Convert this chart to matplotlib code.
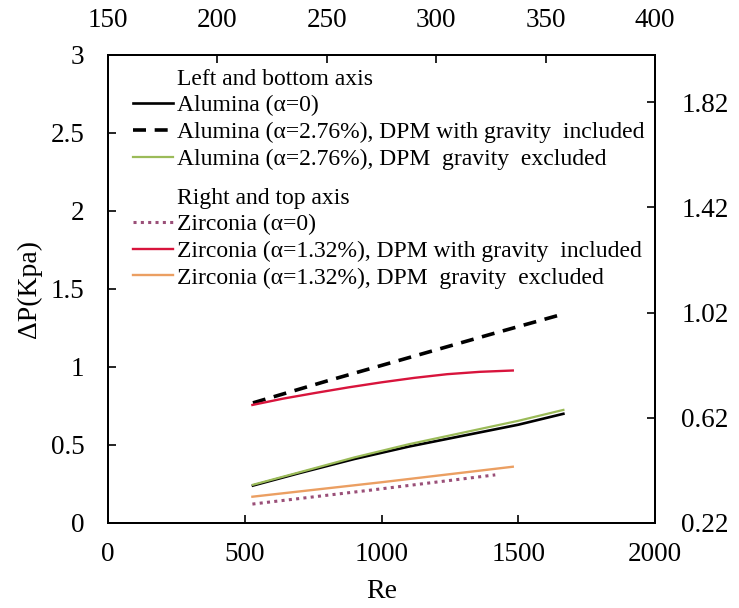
import matplotlib
matplotlib.use("Agg")
import matplotlib.pyplot as plt
from matplotlib.lines import Line2D

plt.rcParams['font.family'] = ['Liberation Serif', 'DejaVu Serif']

# Alumina, plotted on the left / bottom axes (Re vs dP in kPa)
re_al = [530, 700, 900, 1100, 1300, 1500, 1665]
dp_al_base = [0.24, 0.32, 0.41, 0.49, 0.56, 0.63, 0.70]
dp_al_nograv = [0.245, 0.325, 0.42, 0.505, 0.58, 0.655, 0.725]
re_al_grav = [530, 800, 1100, 1400, 1645]
dp_al_grav = [0.77, 0.91, 1.06, 1.21, 1.33]

# Zirconia, plotted on the right / top axes
re_zr = [216, 230, 245, 260, 275, 290, 305, 320, 335]
dp_zr_grav = [0.669, 0.693, 0.715, 0.736, 0.755, 0.772, 0.786, 0.795, 0.800]
re_zr_nograv = [216, 275, 335]
dp_zr_nograv = [0.320, 0.375, 0.434]
re_zr_base = [216, 270, 327]
dp_zr_base = [0.292, 0.345, 0.403]

left_ticks = [0, 0.5, 1, 1.5, 2, 2.5, 3]
bottom_ticks = [0, 500, 1000, 1500, 2000]
right_ticks = [0.22, 0.62, 1.02, 1.42, 1.82]
top_ticks = [150, 200, 250, 300, 350, 400]

fig = plt.figure(figsize=(7.39, 6.08), dpi=100)
ax = fig.add_axes([108 / 739, 85 / 608, 547 / 739, 468 / 608])
ax_r = ax.twinx()
ax_t = ax_r.twiny()

ax.plot(re_al, dp_al_base, color='black', lw=1.9)
ax.plot(re_al_grav, dp_al_grav, color='black', lw=2.6, dashes=(3.6, 2.4))
ax.plot(re_al, dp_al_nograv, color='#9bbb59', lw=1.6)

ax_t.plot(re_zr_base, dp_zr_base, color='#9a4f78', lw=2.2, dashes=(1, 1.4))
ax_t.plot(re_zr, dp_zr_grav, color='#d8143c', lw=1.7)
ax_t.plot(re_zr_nograv, dp_zr_nograv, color='#eb9f62', lw=1.7)

ax.set_xlim(0, 2000)
ax.set_ylim(0, 3)
ax_r.set_ylim(0.22, 2.0)
ax_t.set_xlim(150, 400)

ax.set_xticks(bottom_ticks)
ax.set_yticks(left_ticks)
ax.set_yticklabels(['0', '0.5', '1', '1.5', '2', '2.5', '3'])
ax_r.set_yticks(right_ticks)
ax_r.set_yticklabels(['%.2f' % v for v in right_ticks])
ax_t.set_xticks(top_ticks)

ax.tick_params(axis='x', direction='in', length=6, width=1.2, labelsize=19.5, pad=14)
ax.tick_params(axis='y', direction='in', length=6, width=1.2, labelsize=19.5, pad=17)
ax_r.tick_params(axis='y', direction='in', length=6, width=1.2, labelsize=19.5, pad=19)
ax_t.tick_params(axis='x', direction='in', length=6, width=1.2, labelsize=19.5, pad=16)

for a in (ax, ax_r, ax_t):
    for s in a.spines.values():
        s.set_linewidth(1.4)

ax.set_xlabel('Re', fontsize=20, labelpad=8)
ax.set_ylabel('ΔP(Kpa)', fontsize=20, labelpad=6)

blank = Line2D([], [], color='none')
h_left = [blank,
          Line2D([], [], color='black', lw=1.9),
          Line2D([], [], color='black', lw=2.6, dashes=(3.6, 2.4)),
          Line2D([], [], color='#9bbb59', lw=1.6)]
l_left = ['Left and bottom axis',
          'Alumina (α=0)',
          'Alumina (α=2.76%), DPM with gravity  included',
          'Alumina (α=2.76%), DPM  gravity  excluded']
h_right = [blank,
           Line2D([], [], color='#9a4f78', lw=2.2, dashes=(1, 1.4)),
           Line2D([], [], color='#d8143c', lw=1.7),
           Line2D([], [], color='#eb9f62', lw=1.7)]
l_right = ['Right and top axis',
           'Zirconia (α=0)',
           'Zirconia (α=1.32%), DPM with gravity  included',
           'Zirconia (α=1.32%), DPM  gravity  excluded']

leg_kw = dict(frameon=False, fontsize=17, loc='upper left', borderpad=0,
              borderaxespad=0, handlelength=1.7, handletextpad=0.2,
              labelspacing=0.22)
leg1 = ax_t.legend(h_left, l_left, bbox_to_anchor=(0.045, 0.972), **leg_kw)
ax_t.add_artist(leg1)
ax_t.legend(h_right, l_right, bbox_to_anchor=(0.045, 0.718), **leg_kw)

fig.savefig('out.png', dpi=100)
